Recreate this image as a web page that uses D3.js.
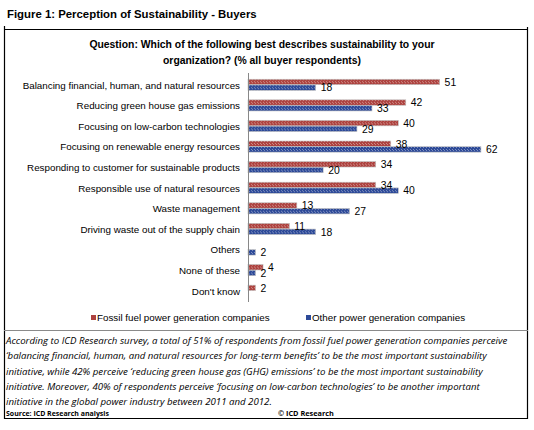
<!DOCTYPE html>
<html><head><meta charset="utf-8">
<script src="https://cdn.jsdelivr.net/npm/d3@7"></script>
<style>body{margin:0;background:#fff}svg{display:block}</style>
</head><body>
<script>
const categories = [
  "Balancing financial, human, and natural resources",
  "Reducing green house gas emissions",
  "Focusing on low-carbon technologies",
  "Focusing on renewable energy resources",
  "Responding to customer for sustainable products",
  "Responsible use of natural resources",
  "Waste management",
  "Driving waste out of the supply chain",
  "Others",
  "None of these",
  "Don't know"
];
const seriesNames = ["Fossil fuel power generation companies", "Other power generation companies"];
const fossilValues = [51, 42, 40, 38, 34, 34, 13, 11, 0, 4, 2];
const otherValues  = [18, 33, 29, 62, 20, 40, 27, 18, 2, 2, 0];
const titleText = "Figure 1: Perception of Sustainability - Buyers";
const questionLines = ["Question: Which of the following best describes sustainability to your",
                       "organization? (% all buyer respondents)"];
const noteLines = [
  "According to ICD Research survey, a total of 51% of respondents from fossil fuel power generation companies perceive",
  "\u2018balancing financial, human, and natural resources for long-term benefits\u2019 to be the most important sustainability",
  "initiative, while 42% perceive \u2018reducing green house gas (GHG) emissions\u2019 to be the most important sustainability",
  "initiative. Moreover, 40% of respondents perceive \u2018focusing on low-carbon technologies\u2019 to be another important",
  "initiative in the global power industry between 2011 and 2012."
];
const sourceText = "Source: ICD Research analysis";
const copyrightText = "\u00A9 ICD Research";

const W = 534, H = 430;
const svg = d3.select("body").append("svg").attr("width", W).attr("height", H);
const defs = svg.append("defs");
const colors = ["#ad423f", "#2d4a98"];
const light = ["#cf8c88", "#7f8fc0"];
colors.forEach((c, i) => {
  const p = defs.append("pattern").attr("id", "pat" + i).attr("width", 3).attr("height", 3)
    .attr("patternUnits", "userSpaceOnUse");
  p.append("rect").attr("width", 3).attr("height", 3).attr("fill", c);
  p.append("rect").attr("x", 0).attr("y", 0).attr("width", 1).attr("height", 1).attr("fill", light[i]);
  p.append("rect").attr("x", 2).attr("y", 2).attr("width", 1).attr("height", 1).attr("fill", light[i]);
});

const font = "'Liberation Sans', Arial, sans-serif";

// fit a text element to a target width by adjusting its font size
function fitWidth(sel, target) {
  const fs = +sel.attr("font-size");
  const w = sel.node().getComputedTextLength();
  if (w > 0) sel.attr("font-size", (fs * target / w).toFixed(2));
  return sel;
}

// Title
fitWidth(svg.append("text").attr("x", 7).attr("y", 18).attr("font-family", font)
  .attr("font-weight", "bold").attr("font-size", 11.5).attr("fill", "#000").text(titleText), 250);

// Frame
svg.append("line").attr("x1", 4).attr("x2", 528).attr("y1", 29.5).attr("y2", 29.5).attr("stroke", "#000").attr("stroke-width", 1.2);
svg.append("line").attr("x1", 4.5).attr("x2", 4.5).attr("y1", 26).attr("y2", 419).attr("stroke", "#000").attr("stroke-width", 1.2);
svg.append("line").attr("x1", 527.5).attr("x2", 527.5).attr("y1", 27).attr("y2", 419).attr("stroke", "#000").attr("stroke-width", 1.2);
svg.append("line").attr("x1", 4).attr("x2", 528).attr("y1", 418.5).attr("y2", 418.5).attr("stroke", "#000").attr("stroke-width", 1.2);
svg.append("line").attr("x1", 4).attr("x2", 528).attr("y1", 330.5).attr("y2", 330.5).attr("stroke", "#8a8a8a").attr("stroke-width", 1);

// Question
questionLines.forEach((t, i) => {
  svg.append("text").attr("x", 262).attr("y", 48 + i * 15.5).attr("text-anchor", "middle")
    .attr("font-family", font).attr("font-weight", "bold").attr("font-size", 10.4).attr("fill", "#000").text(t);
});

// Scales
const x = d3.scaleLinear().domain([0, 70]).range([248, 511]);
const y0 = d3.scaleBand().domain(categories).range([74.5, 301]).paddingInner(0.46).paddingOuter(0.23);
const y1 = d3.scaleBand().domain([0, 1]).range([0, y0.bandwidth()]).paddingInner(0.05);

const data = categories.map((c, i) => ({ cat: c, vals: [fossilValues[i], otherValues[i]] }));

const g = svg.append("g");
const rows = g.selectAll("g.row").data(data).join("g").attr("class", "row")
  .attr("transform", d => `translate(0,${y0(d.cat)})`);
rows.selectAll("rect").data(d => d.vals.map((v, k) => ({ v, k })).filter(e => e.v > 0)).join("rect")
  .attr("x", x(0)).attr("y", e => y1(e.k)).attr("width", e => x(e.v) - x(0)).attr("height", y1.bandwidth())
  .attr("fill", e => `url(#pat${e.k})`).attr("stroke", "#bdbdbd").attr("stroke-width", 0.6);
rows.selectAll("text.val").data(d => d.vals.map((v, k) => ({ v, k })).filter(e => e.v > 0)).join("text")
  .attr("class", "val").attr("x", e => x(e.v) + 5).attr("y", e => y1(e.k) + y1.bandwidth() / 2 + 3.8)
  .attr("font-family", font).attr("font-size", 10.4).attr("fill", "#000").text(e => e.v);

// Axis
const yAxis = d3.axisLeft(y0).tickSize(0).tickPadding(8);
const ax = svg.append("g").attr("transform", `translate(${x(0)},0)`).call(yAxis);
ax.select(".domain").attr("stroke", "#888").attr("d", "M0.5,73V302");
ax.selectAll(".tick text").attr("font-family", font).attr("font-size", 9.8).attr("fill", "#000")
  .attr("dy", "0.4em");

// Legend
const leg = [{ x: 91, k: 0 }, { x: 306, k: 1 }];
leg.forEach(l => {
  svg.append("rect").attr("x", l.x).attr("y", 315).attr("width", 5).attr("height", 5).attr("fill", colors[l.k]);
  svg.append("text").attr("x", l.x + 6).attr("y", 321).attr("font-family", font).attr("font-size", 9.8)
    .attr("fill", "#000").text(seriesNames[l.k]);
});

// Note
const noteWidths = [502, 481, 477, 474, 266];
const noteFont = "'Open Sans', 'Noto Sans', sans-serif";
noteLines.forEach((t, i) => {
  const s = svg.append("text").attr("x", 6).attr("y", 344 + i * 15.3).attr("font-family", noteFont)
    .attr("font-style", "italic").attr("font-size", 10.8).attr("fill", "#000").text(t);
  fitWidth(s, noteWidths[i]);
});
fitWidth(svg.append("text").attr("x", 6).attr("y", 416).attr("font-family", noteFont).attr("font-weight", "bold")
  .attr("font-size", 8).text(sourceText), 103);
fitWidth(svg.append("text").attr("x", 278).attr("y", 416).attr("font-family", noteFont).attr("font-weight", "bold")
  .attr("font-size", 8).text(copyrightText), 56);
</script>
</body></html>
